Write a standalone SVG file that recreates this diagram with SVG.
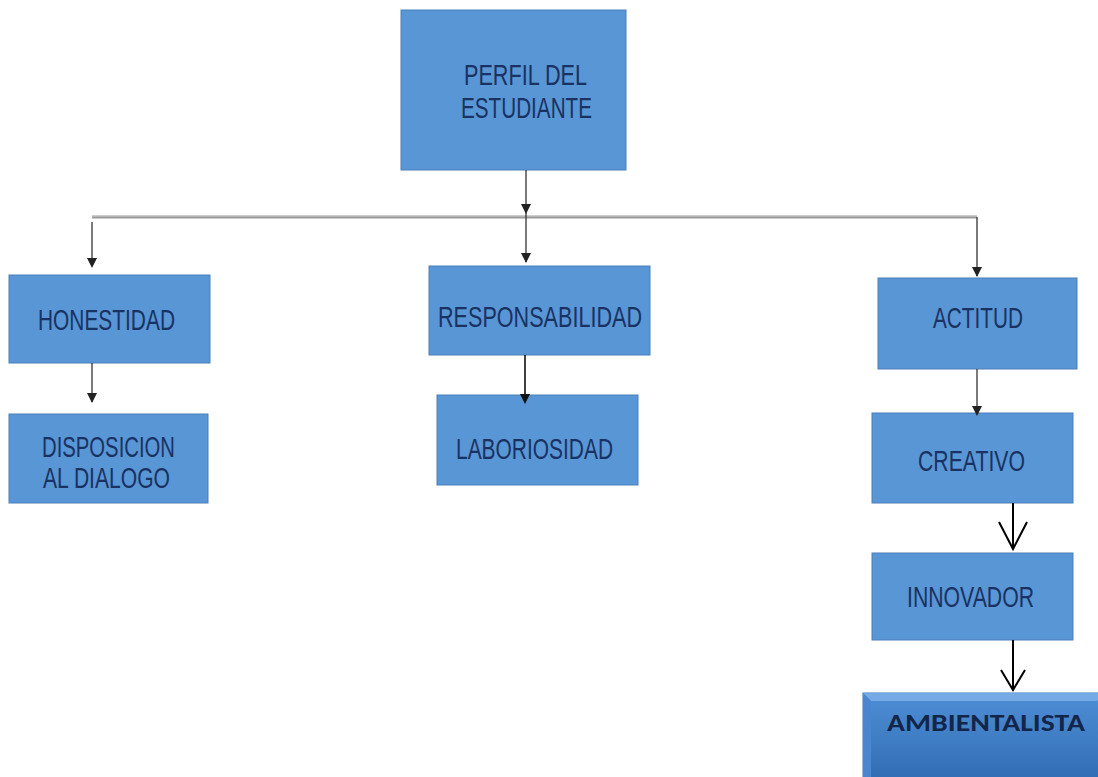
<svg xmlns="http://www.w3.org/2000/svg" width="1098" height="777" viewBox="0 0 1098 777">
<style>
.box{fill:#5896d6;stroke:#4a7fb8;stroke-width:1}
.lbl{font-family:"Liberation Sans",Arial,sans-serif;font-size:29px;fill:#1a3262;text-anchor:middle}
.thin{stroke:#333;stroke-width:1.3;fill:none}
.blk{stroke:#000;stroke-width:2;fill:none}
.ah{fill:#222}
</style>
<defs>
<linearGradient id="amb" x1="0" y1="0" x2="0" y2="1">
<stop offset="0" stop-color="#4f8fd6"/>
<stop offset="1" stop-color="#2f6bb3"/>
</linearGradient>
</defs>
<rect width="1098" height="777" fill="#fff"/>
<g id="perfil">
<rect class="box" x="401" y="10" width="225" height="160"/>
<text class="lbl" x="525.5" y="85" textLength="123" lengthAdjust="spacingAndGlyphs">PERFIL DEL</text>
<text class="lbl" x="526.5" y="118" textLength="131" lengthAdjust="spacingAndGlyphs">ESTUDIANTE</text>
</g>
<g id="honestidad">
<rect class="box" x="9" y="275" width="201" height="88"/>
<text class="lbl" x="106.5" y="330" textLength="137" lengthAdjust="spacingAndGlyphs">HONESTIDAD</text>
</g>
<g id="disposicion">
<rect class="box" x="9" y="414" width="199" height="89"/>
<text class="lbl" x="108.5" y="457" textLength="133" lengthAdjust="spacingAndGlyphs">DISPOSICION</text>
<text class="lbl" x="106.5" y="488" textLength="127" lengthAdjust="spacingAndGlyphs">AL DIALOGO</text>
</g>
<g id="responsabilidad">
<rect class="box" x="429" y="266" width="221" height="89"/>
<text class="lbl" x="540" y="327" textLength="204" lengthAdjust="spacingAndGlyphs">RESPONSABILIDAD</text>
</g>
<g id="laboriosidad">
<rect class="box" x="437" y="395" width="201" height="90"/>
<text class="lbl" x="534.5" y="459" textLength="157" lengthAdjust="spacingAndGlyphs">LABORIOSIDAD</text>
</g>
<g id="actitud">
<rect class="box" x="878" y="278" width="199" height="91"/>
<text class="lbl" x="978" y="328" textLength="90" lengthAdjust="spacingAndGlyphs">ACTITUD</text>
</g>
<g id="creativo">
<rect class="box" x="872" y="413" width="201" height="90"/>
<text class="lbl" x="971.5" y="471" textLength="107" lengthAdjust="spacingAndGlyphs">CREATIVO</text>
</g>
<g id="innovador">
<rect class="box" x="872" y="553" width="201" height="87"/>
<text class="lbl" x="970.5" y="607" textLength="127" lengthAdjust="spacingAndGlyphs">INNOVADOR</text>
</g>
<g id="ambientalista">
<rect x="863" y="693" width="240" height="90" fill="url(#amb)" stroke="#3d76bd" stroke-width="1"/>
<polygon points="863,693 1103,693 1097,701 871,701" fill="#7fb2ea" opacity="0.8"/>
<polygon points="863,693 871,701 871,783 863,783" fill="#4a86cf"/>
<text x="986" y="731" font-family="Carlito,'Liberation Sans',Arial,sans-serif" font-size="25" font-weight="bold" fill="#13264a" text-anchor="middle" textLength="198" lengthAdjust="spacingAndGlyphs">AMBIENTALISTA</text>
</g>
<g id="connectors">
<path d="M92,217 H977" stroke="#9a9a9a" stroke-width="3" fill="none"/>
<path d="M92,216 H977" stroke="#cfcfcf" stroke-width="1" fill="none"/>
<path class="thin" d="M526,170 V262"/>
<path class="ah" d="M521,204 L531,204 L526,214 Z"/>
<path class="ah" d="M521,253 L531,253 L526,263 Z"/>
<path class="thin" d="M92,222 V266"/>
<path class="ah" d="M87,258 L97,258 L92,268 Z"/>
<path class="thin" d="M977,217 V276"/>
<path class="ah" d="M972,267 L982,267 L977,277 Z"/>
<path class="thin" d="M92,363 V402"/>
<path class="ah" d="M87,393 L97,393 L92,403 Z"/>
<path d="M525,355 V400" stroke="#111" stroke-width="1.6" fill="none"/>
<path d="M520,394 L530,394 L525,404 Z" fill="#111"/>
<path class="thin" d="M977,369 V414"/>
<path class="ah" d="M972,406 L982,406 L977,416 Z"/>
<path class="blk" d="M1013,503 V549 M999,522 L1013,549 L1027,522"/>
<path class="blk" d="M1013,640 V690 M1001,670 L1013,690 L1025,670"/>
</g>
</svg>
